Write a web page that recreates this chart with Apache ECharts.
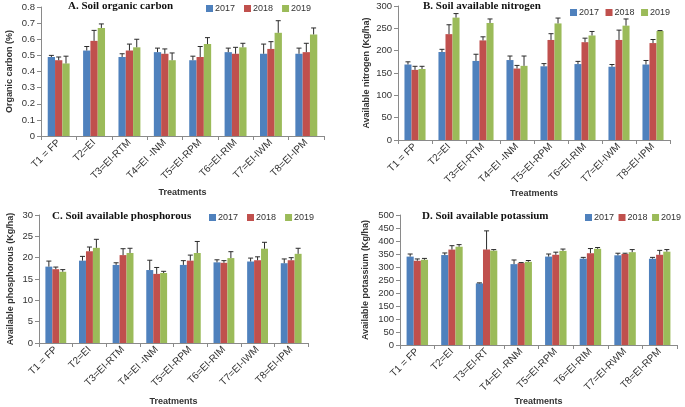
<!DOCTYPE html>
<html><head><meta charset="utf-8">
<script src="https://cdn.jsdelivr.net/npm/echarts@6/dist/echarts.min.js"></script>
<style>html,body{margin:0;padding:0;background:#fff}#c{width:685px;height:407px}</style>
</head><body><div id="c"></div>
<script>
const years = ['2017', '2018', '2019'];
const catsABC = ['T1 = FP', 'T2=EI', 'T3=EI-RTM', 'T4=EI -INM', 'T5=EI-RPM', 'T6=EI-RIM', 'T7=EI-IWM', 'T8=EI-IPM'];
const catsD = ['T1 = FP', 'T2=EI', 'T3=EI-RT', 'T4=EI -RNM', 'T5=EI-RPM', 'T6=EI-RIM', 'T7=EI-RWM', 'T8=EI-RPM'];

// A. Soil organic carbon (%)
const socMean2017 = [0.49, 0.53, 0.49, 0.52, 0.47, 0.52, 0.51, 0.51];
const socMean2018 = [0.47, 0.59, 0.53, 0.51, 0.49, 0.51, 0.54, 0.52];
const socMean2019 = [0.45, 0.67, 0.55, 0.47, 0.57, 0.55, 0.64, 0.63];
const socErr2017 = [0.01, 0.025, 0.02, 0.025, 0.025, 0.025, 0.06, 0.035];
const socErr2018 = [0.02, 0.065, 0.04, 0.03, 0.065, 0.04, 0.045, 0.055];
const socErr2019 = [0.045, 0.025, 0.05, 0.045, 0.04, 0.025, 0.075, 0.04];

// B. Soil available nitrogen (Kg/ha)
const nMean2017 = [169, 197, 177, 179, 165, 170, 164, 169];
const nMean2018 = [157, 237, 223, 160, 224, 219, 224, 217];
const nMean2019 = [159, 274, 262, 166, 261, 234, 256, 244];
const nErr2017 = [6, 6, 15, 9, 6, 6, 5, 9];
const nErr2018 = [8, 21, 8, 7, 14, 9, 22, 8];
const nErr2019 = [6, 9, 9, 22, 12, 9, 15, 1];

// C. Soil available phosphorous (Kg/ha)
const pMean2017 = [17.9, 19.3, 18.3, 17.1, 18.3, 18.9, 19.1, 18.7];
const pMean2018 = [17.3, 21.5, 20.6, 16.2, 19.3, 18.8, 19.4, 19.4];
const pMean2019 = [16.7, 22.3, 21.1, 16.4, 21.1, 19.9, 22.1, 20.9];
const pErr2017 = [1.3, 1.0, 0.5, 2.3, 1.0, 0.6, 0.8, 1.0];
const pErr2018 = [0.5, 1.0, 1.5, 1.5, 1.3, 0.5, 0.8, 0.6];
const pErr2019 = [0.5, 2.0, 1.1, 0.4, 2.7, 1.5, 1.5, 1.3];

// D. Soil available potassium (Kg/ha)
const kMean2017 = [340, 346, 237, 311, 340, 332, 345, 332];
const kMean2018 = [324, 367, 367, 315, 347, 353, 350, 347];
const kMean2019 = [328, 378, 363, 320, 362, 370, 357, 359];
const kErr2017 = [10, 8, 2, 16, 10, 5, 8, 5];
const kErr2018 = [7, 15, 72, 2, 10, 18, 3, 17];
const kErr2019 = [5, 8, 4, 5, 7, 5, 10, 8];

const colors = ['#4F81BD', '#C0504D', '#9BBB59'];
const GAP = 0.38;

const panels = [
  { title: 'A. Soil organic carbon', yName: 'Organic carbon (%)', cats: catsABC,
    means: [socMean2017, socMean2018, socMean2019], errs: [socErr2017, socErr2018, socErr2019],
    max: 0.8, interval: 0.1,
    grid: { left: 41, right: 361, top: 7, bottom: 271 },
    titlePos: { left: 68, top: 1 }, legendPos: { left: 206, top: 4, gap: 9 }, yGap: 27, xGap: 52 },
  { title: 'B. Soil available nitrogen', yName: 'Available nitrogen (Kg/ha)', cats: catsABC,
    means: [nMean2017, nMean2018, nMean2019], errs: [nErr2017, nErr2018, nErr2019],
    max: 300, interval: 50,
    grid: { left: 398, right: 15, top: 6, bottom: 267 },
    titlePos: { left: 423, top: 1 }, legendPos: { left: 570, top: 8, gap: 6.5 }, yGap: 27, xGap: 49 },
  { title: 'C. Soil available phosphorous', yName: 'Available phosphorous (Kg/ha)', cats: catsABC,
    means: [pMean2017, pMean2018, pMean2019], errs: [pErr2017, pErr2018, pErr2019],
    max: 30, interval: 5,
    grid: { left: 39, right: 377, top: 215, bottom: 61 },
    titlePos: { left: 52, top: 211 }, legendPos: { left: 209, top: 213, gap: 9 }, yGap: 24, xGap: 54 },
  { title: 'D. Soil available potassium', yName: 'Available potassium (Kg/ha)', cats: catsD,
    means: [kMean2017, kMean2018, kMean2019], errs: [kErr2017, kErr2018, kErr2019],
    max: 500, interval: 50,
    grid: { left: 400, right: 8, top: 215, bottom: 59 },
    titlePos: { left: 422, top: 211 }, legendPos: { left: 585, top: 213, gap: 4.5 }, yGap: 30, xGap: 52 }
];

function errRender(yearIdx) {
  return function (params, api) {
    const x = api.value(0), v = api.value(1), e = api.value(2);
    const base = api.coord([x, v]);
    const top = api.coord([x, v + e]);
    const band = api.size([1, 0])[0];
    const bw = band * (1 - GAP) / 3;
    const cx = base[0] + (yearIdx - 1) * bw;
    const st = { stroke: '#2b2b2b', lineWidth: 1 };
    return { type: 'group', children: [
      { type: 'line', shape: { x1: cx, y1: base[1], x2: cx, y2: top[1] }, style: st },
      { type: 'line', shape: { x1: cx - 2.5, y1: top[1], x2: cx + 2.5, y2: top[1] }, style: st }
    ] };
  };
}

const option = { animation: false, color: colors, textStyle: { fontFamily: 'Liberation Sans' },
  title: [], legend: [], grid: [], xAxis: [], yAxis: [], series: [] };

panels.forEach((p, i) => {
  option.grid.push(p.grid);
  option.title.push({ text: p.title, left: p.titlePos.left, top: p.titlePos.top, padding: 0,
    textStyle: { fontFamily: 'Liberation Serif', fontWeight: 'bold', fontSize: 11, color: '#111' } });
  option.legend.push({ data: years, left: p.legendPos.left, top: p.legendPos.top, itemWidth: 7, itemHeight: 7,
    itemGap: p.legendPos.gap, icon: 'rect', padding: 0, selectedMode: false,
    textStyle: { fontSize: 9, color: '#333', padding: [0, 0, 0, -3] } });
  option.xAxis.push({ type: 'category', gridIndex: i, data: p.cats,
    name: 'Treatments', nameLocation: 'middle', nameGap: p.xGap,
    nameTextStyle: { fontWeight: 'bold', fontSize: 9, color: '#333' },
    axisLine: { lineStyle: { color: '#8a8a8a' } },
    axisTick: { show: true, length: 4, lineStyle: { color: '#8a8a8a' } },
    axisLabel: { interval: 0, rotate: 45, fontSize: 10, color: '#333', margin: 5 } });
  option.yAxis.push({ type: 'value', gridIndex: i, min: 0, max: p.max, interval: p.interval,
    name: p.yName, nameLocation: 'middle', nameGap: p.yGap,
    nameTextStyle: { fontWeight: 'bold', fontSize: 9, color: '#333' },
    splitLine: { show: false },
    axisLine: { show: true, lineStyle: { color: '#8a8a8a' } },
    axisTick: { show: true, length: 4, lineStyle: { color: '#8a8a8a' } },
    axisLabel: { fontSize: 9.5, color: '#333', margin: 6 } });
  years.forEach((y, k) => {
    option.series.push({ type: 'bar', name: y, xAxisIndex: i, yAxisIndex: i, data: p.means[k],
      barGap: '0%', barCategoryGap: (GAP * 100) + '%', itemStyle: { color: colors[k] } });
  });
  years.forEach((y, k) => {
    option.series.push({ type: 'custom', name: y + ' err', xAxisIndex: i, yAxisIndex: i, z: 5,
      renderItem: errRender(k),
      data: p.means[k].map((m, j) => [j, m, p.errs[k][j]]) });
  });
});

const chart = echarts.init(document.getElementById('c'));
chart.setOption(option);
</script></body></html>
